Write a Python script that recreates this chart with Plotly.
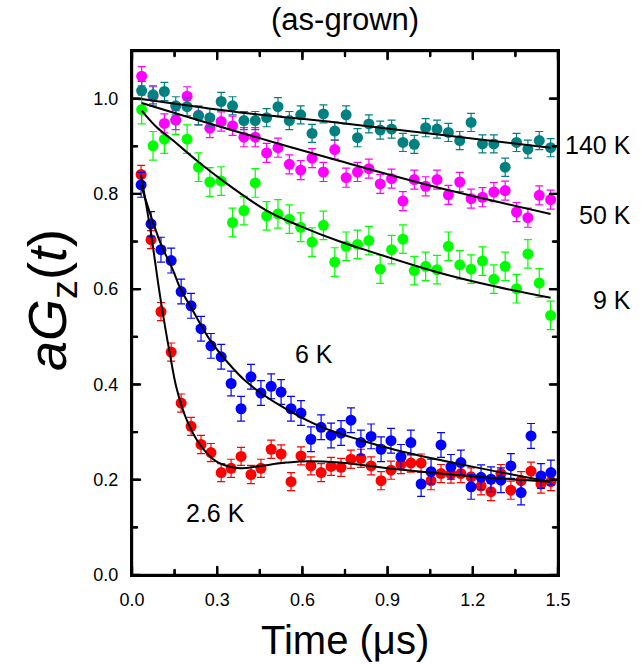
import numpy as np
import plotly.graph_objects as go

# ---------------- data ----------------
t_a = [0.034, 0.074, 0.114, 0.154, 0.194, 0.234, 0.274, 0.314, 0.354, 0.394,
       0.434, 0.474, 0.514, 0.554, 0.594, 0.634, 0.674, 0.714, 0.754, 0.794,
       0.834, 0.874, 0.914, 0.954, 0.994, 1.034, 1.074, 1.114, 1.154, 1.194,
       1.234, 1.274, 1.314, 1.354, 1.394, 1.434, 1.474]
t_b = [0.032, 0.067, 0.102, 0.138, 0.173, 0.208, 0.243, 0.278, 0.314, 0.349,
       0.384, 0.419, 0.454, 0.490, 0.525, 0.560, 0.595, 0.630, 0.666, 0.701,
       0.736, 0.771, 0.806, 0.842, 0.877, 0.912, 0.947, 0.982, 1.018, 1.053,
       1.088, 1.123, 1.158, 1.194, 1.229, 1.264, 1.299, 1.334, 1.370, 1.405,
       1.440, 1.475]

g_140K = [1.017, 1.008, 1.015, 0.985, 0.983, 0.964, 0.960, 0.994, 0.985, 0.954,
          0.954, 0.960, 0.983, 0.954, 0.966, 0.927, 0.968, 0.932, 0.966, 0.918,
          0.947, 0.934, 0.936, 0.908, 0.904, 0.939, 0.936, 0.929, 0.912, 0.950,
          0.905, 0.905, 0.856, 0.908, 0.894, 0.912, 0.897]
g_50K = [1.047, 1.005, 0.948, 0.955, 1.005, 0.965, 0.938, 0.952, 0.943, 0.919,
         0.919, 0.886, 0.897, 0.862, 0.850, 0.875, 0.846, 0.893, 0.834, 0.846,
         0.853, 0.821, 0.832, 0.785, 0.830, 0.816, 0.830, 0.798, 0.825, 0.790,
         0.793, 0.804, 0.807, 0.762, 0.750, 0.797, 0.788]
g_9K = [0.977, 0.901, 0.915, 0.955, 0.915, 0.856, 0.825, 0.827, 0.740, 0.765,
        0.823, 0.754, 0.758, 0.747, 0.730, 0.699, 0.734, 0.657, 0.690, 0.694,
        0.702, 0.642, 0.683, 0.705, 0.639, 0.648, 0.641, 0.690, 0.651, 0.642,
        0.659, 0.621, 0.648, 0.601, 0.674, 0.613, 0.545]
g_6K = [0.819, 0.737, 0.683, 0.660, 0.595, 0.565, 0.517, 0.481, 0.458, 0.402,
        0.349, 0.416, 0.382, 0.396, 0.384, 0.349, 0.340, 0.285, 0.310, 0.293,
        0.298, 0.325, 0.278, 0.291, 0.264, 0.282, 0.248, 0.278, 0.191, 0.217,
        0.273, 0.227, 0.236, 0.185, 0.205, 0.201, 0.199, 0.229, 0.173, 0.292,
        0.208, 0.215]
g_2p6K = [0.841, 0.704, 0.553, 0.468, 0.361, 0.312, 0.274, 0.257, 0.215, 0.224,
          0.249, 0.211, 0.224, 0.264, 0.254, 0.196, 0.250, 0.229, 0.215, 0.228,
          0.226, 0.243, 0.245, 0.229, 0.198, 0.220, 0.232, 0.235, 0.235, 0.198,
          0.213, 0.212, 0.213, 0.206, 0.187, 0.175, 0.213, 0.178, 0.198, 0.218,
          0.191, 0.196]

# error bar half-lengths
err_140K, err_50K, err_9K, err_6K, err_2p6K = 0.019, 0.020, 0.030, 0.026, 0.019

# fit curves
fit_140K_t = [0.034, 0.38, 0.72, 1.10, 1.474]
fit_140K_y = [0.999, 0.971, 0.950, 0.923, 0.897]
fit_50K_t = [0.034, 0.38, 0.732, 1.073, 1.474]
fit_50K_y = [0.991, 0.929, 0.869, 0.814, 0.758]
fit_9K_t = [0.034, 0.087, 0.145, 0.228, 0.31, 0.474, 0.59, 0.732, 0.813, 1.085, 1.284, 1.474]
fit_9K_y = [0.975, 0.940, 0.912, 0.870, 0.832, 0.765, 0.733, 0.700, 0.684, 0.634, 0.605, 0.582]
fit_6K_t = [0.032, 0.099, 0.145, 0.169, 0.216, 0.275, 0.333, 0.404, 0.521, 0.662, 0.80, 0.932, 1.202, 1.472]
fit_6K_y = [0.818, 0.699, 0.639, 0.603, 0.553, 0.493, 0.449, 0.405, 0.356, 0.312, 0.284, 0.262, 0.227, 0.196]
fit_2p6K_t = [0.032, 0.066, 0.099, 0.134, 0.157, 0.193, 0.239, 0.298, 0.38, 0.451, 0.545, 0.62, 0.732, 0.932, 1.202, 1.472]
fit_2p6K_y = [0.839, 0.720, 0.585, 0.462, 0.392, 0.325, 0.274, 0.238, 0.224, 0.229, 0.236, 0.239, 0.236, 0.222, 0.207, 0.196]

# axis ticks
x_range = [0.0, 1.5]
y_range = [0.0, 1.1]
x_major = [0.0, 0.3, 0.6, 0.9, 1.2, 1.5]
x_minor = [0.15, 0.45, 0.75, 1.05, 1.35]
y_major = [0.0, 0.2, 0.4, 0.6, 0.8, 1.0]
y_minor = [0.1, 0.3, 0.5, 0.7, 0.9]

FONT = "Liberation Sans, Arial, sans-serif"
W, H = 642, 664
ML, MR, MT, MB = 132, 84, 51, 89
PW, PH = W - ML - MR, H - MT - MB
px_x = (x_range[1] - x_range[0]) / PW
px_y = (y_range[1] - y_range[0]) / PH

fig = go.Figure()

series = [
    (t_b, g_2p6K, err_2p6K, "#FF0000"),
    (t_b, g_6K, err_6K, "#0000FF"),
    (t_a, g_9K, err_9K, "#00FF00"),
    (t_a, g_50K, err_50K, "#FF00FF"),
    (t_a, g_140K, err_140K, "#008080"),
]
for tx, gy, e, c in series:
    fig.add_trace(go.Scatter(
        x=tx, y=gy, mode="markers",
        marker=dict(color=c, size=11, line=dict(width=0)),
        error_y=dict(type="constant", value=e, color=c, thickness=1.2, width=4),
        showlegend=False, hoverinfo="skip"))

for ft, fy in [(fit_2p6K_t, fit_2p6K_y), (fit_6K_t, fit_6K_y), (fit_9K_t, fit_9K_y),
               (fit_50K_t, fit_50K_y), (fit_140K_t, fit_140K_y)]:
    fig.add_trace(go.Scatter(x=ft, y=fy, mode="lines",
                             line=dict(color="black", width=2, shape="spline", smoothing=1),
                             showlegend=False, hoverinfo="skip"))

# frame and tick marks built from small square markers (1 px apart)
x0, x1 = x_range
y0, y1 = y_range
bx, by = [], []
xs_edge = np.linspace(x0, x1, PW + 1)
ys_edge = np.linspace(y0, y1, PH + 1)
for yv in (y0, y1):
    bx += list(xs_edge); by += [yv] * len(xs_edge)
for xv in (x0, x1):
    bx += [xv] * len(ys_edge); by += list(ys_edge)
for vals, L in [(x_major, 8), (x_minor, 5)]:
    for v in vals:
        steps = np.arange(0, L + 0.5, 1.0)
        bx += [v] * len(steps); by += list(y0 + steps * px_y)
        bx += [v] * len(steps); by += list(y1 - steps * px_y)
for vals, L in [(y_major, 8), (y_minor, 5)]:
    for v in vals:
        steps = np.arange(0, L + 0.5, 1.0)
        bx += list(x0 + steps * px_x); by += [v] * len(steps)
        bx += list(x1 - steps * px_x); by += [v] * len(steps)
fig.add_trace(go.Scatter(x=bx, y=by, mode="markers", cliponaxis=False,
                         marker=dict(symbol="square", size=2.2, color="black", line=dict(width=0)),
                         showlegend=False, hoverinfo="skip"))

fig.update_xaxes(range=x_range, tickvals=x_major, ticktext=[f"{v:.1f}" for v in x_major],
                 showline=True, linecolor="black", linewidth=2, mirror=True,
                 ticks="outside", ticklen=7, tickcolor="rgba(0,0,0,0)",
                 showgrid=False, zeroline=False,
                 tickfont=dict(family=FONT, size=18, color="black"))
fig.update_yaxes(range=y_range, tickvals=y_major, ticktext=[f"{v:.1f}" for v in y_major],
                 showline=True, linecolor="black", linewidth=2, mirror=True,
                 ticks="outside", ticklen=8, tickcolor="rgba(0,0,0,0)",
                 showgrid=False, zeroline=False,
                 tickfont=dict(family=FONT, size=18, color="black"))

ann = []
def A(text, x, y, size, xanchor="center", angle=0):
    ann.append(dict(text=text, x=x, y=y, xref="paper", yref="paper", showarrow=False,
                    xanchor=xanchor, yanchor="middle", textangle=angle,
                    font=dict(family=FONT, size=size, color="black")))

A("(as-grown)", 0.5, 1.06, 31)
A("Time (\u03bcs)", 0.5, -0.124, 40)
A("<i>aG</i><sub>z</sub>(<i>t</i>)", -0.19, 0.525, 54, angle=-90)
A("140 K", 1.176, 0.821, 25, xanchor="right")
A("50 K", 1.176, 0.687, 25, xanchor="right")
A("9 K", 1.176, 0.525, 25, xanchor="right")
A("6 K", 0.427, 0.422, 25)
A("2.6 K", 0.197, 0.118, 25)

fig.update_layout(
    width=W, height=H,
    margin=dict(l=ML, r=MR, t=MT, b=MB),
    paper_bgcolor="white", plot_bgcolor="white",
    annotations=ann,
)

fig.write_html("out.html")
